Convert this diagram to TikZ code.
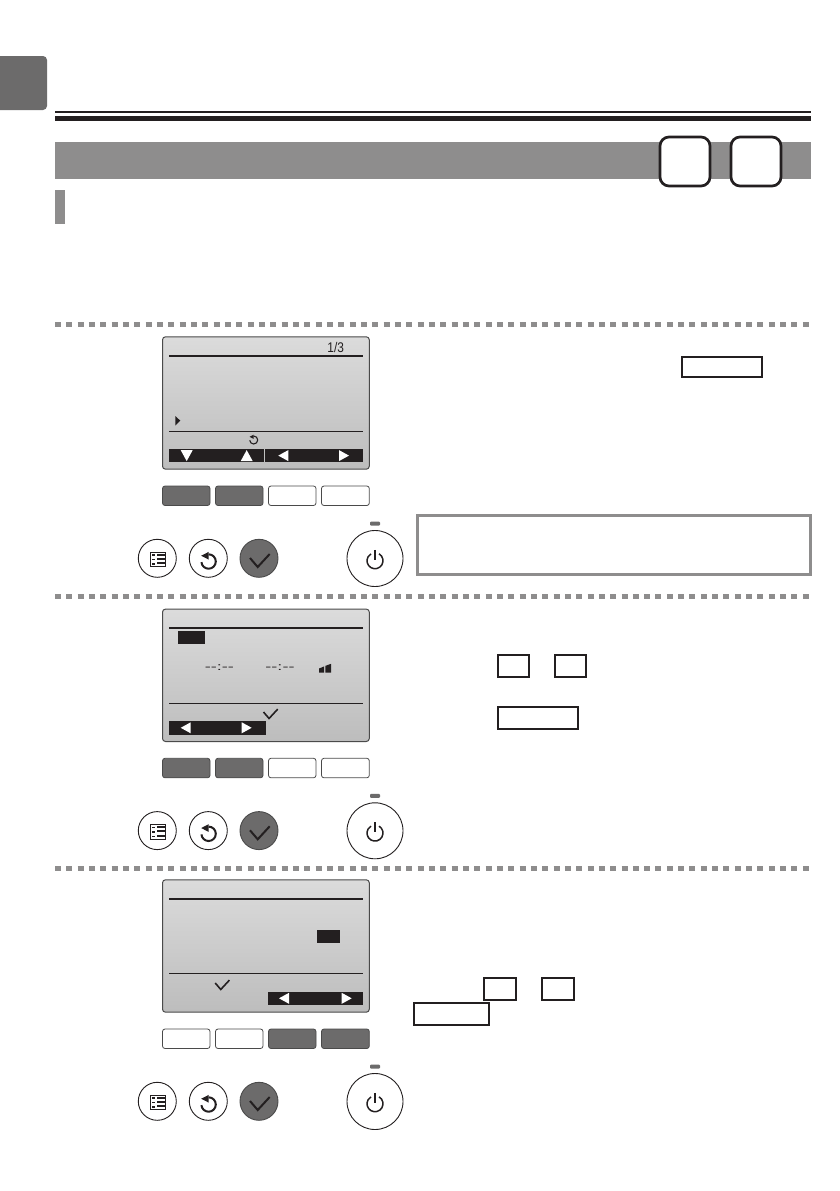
\documentclass[tikz,border=0pt]{standalone}
\usepackage{fontspec}
\setmainfont{Liberation Sans}
\definecolor{ink}{HTML}{231F20}
\definecolor{band}{HTML}{8E8D8D}
\definecolor{btn}{HTML}{6C6B6B}
\definecolor{rim}{HTML}{4A4A4A}
\tikzset{
  dotline/.style={band,line width=5.5pt,dash pattern=on 6pt off 5.33pt},
  keybox/.style={draw=ink,line width=1.7pt,fill=white},
  softkeyon/.style={fill=btn,draw=rim,line width=.8pt,rounded corners=2.5pt},
  softkeyoff/.style={fill=white,draw=rim,line width=.8pt,rounded corners=2.5pt},
  roundbtn/.style={draw=ink,line width=.9pt,fill=white},
  roundbtnon/.style={draw=rim,line width=.9pt,fill=btn},
  tri/.style={fill=white},
  lcdtext/.style={inner sep=0pt,text=ink}
}
% down/up/left/right triangles in the soft-key bar
\newcommand{\tridown}[2]{\fill[tri] (#1-6,#2-5.5) -- (#1+6,#2-5.5) -- (#1,#2+5.5) -- cycle;}
\newcommand{\triup}[2]{\fill[tri] (#1-6,#2+5.5) -- (#1+6,#2+5.5) -- (#1,#2-5.5) -- cycle;}
\newcommand{\trileft}[2]{\fill[tri] (#1+5,#2-5.5) -- (#1+5,#2+5.5) -- (#1-5,#2) -- cycle;}
\newcommand{\triright}[2]{\fill[tri] (#1-5,#2-5.5) -- (#1-5,#2+5.5) -- (#1+5,#2) -- cycle;}
% return glyph: centre x, y, radius, width
\newcommand{\retglyph}[4]{%
  \draw[draw=ink,line width=#4pt] (#1,#2-#3) arc[start angle=90,end angle=-175,radius=#3pt];
  \fill[ink] (#1-1.03*#3,#2-.8*#3) -- (#1,#2-1.33*#3) -- (#1,#2-.27*#3) -- cycle;}
% check glyph: centre x, y, scale, width
\newcommand{\chk}[4]{\draw[draw=ink,line width=#4pt] (#1-9*#3,#2) -- (#1-1.3*#3,#2+9*#3) -- (#1+10.7*#3,#2-4*#3);}
% the screen, soft keys and round buttons; #1 = vertical offset, #2..#5 = soft-key styles
\newcommand{\panel}[5]{%
\begin{scope}[shift={(0,#1)}]
  \shade[rounded corners=3pt,top color=white!86!black,bottom color=white!74!black]
    (162.5,336.8) rectangle (369.3,469.2);
  \draw[draw=rim,line width=1pt,rounded corners=3pt] (162.5,336.8) rectangle (369.3,469.2);
  \path[#2] (162.5,486) rectangle (210,505.5);
  \path[#3] (215.5,486) rectangle (263,505.5);
  \path[#4] (268.5,486) rectangle (316,505.5);
  \path[#5] (321.5,486) rectangle (369.3,505.5);
  \path[roundbtn] (157.3,558.3) circle[radius=19pt];
  \draw[draw=ink,line width=1.1pt,fill=white] (150.5,552.2) rectangle (165.3,566.8);
  \foreach \yy in {555,559,563.4} {\fill[ink] (156.5,\yy-1) rectangle (164.5,\yy+1);}
  \foreach \yy in {555,559.6,564} {\fill[ink] (151.8,\yy-.8) rectangle (154.8,\yy+.8);}
  \path[roundbtn] (208.3,558.3) circle[radius=19pt];
  \retglyph{208.6}{561.5}{7.2}{2}
  \path[roundbtnon] (259,558.3) circle[radius=19pt];
  \chk{259}{558}{1}{2}
  \path[roundbtn] (375,558.5) circle[radius=28pt];
  \fill[btn,rounded corners=1pt] (370,521.5) rectangle (380,525.5);
  \draw[draw=ink,line width=1.5pt] (379,553.8) arc[start angle=60,end angle=-240,radius=8pt];
  \draw[draw=ink,line width=1.7pt] (375,549.8) -- (375,560);
\end{scope}}
\begin{document}
\begin{tikzpicture}[x=1pt,y=-1pt]
\useasboundingbox (0,0) rectangle (839,1191);
\fill[white] (0,0) rectangle (839,1191);
% header
\fill[btn] (0,56) [rounded corners=4pt] -- (47,56) -- (47,110) [sharp corners] -- (0,110) -- cycle;
\fill[ink] (55,111) rectangle (811,113);
\fill[ink] (55,116) rectangle (811,121);
\fill[band] (55,142) rectangle (811,179);
\draw[draw=ink,line width=2.7pt,fill=white,rounded corners=9pt] (660,137) rectangle (710,186);
\draw[draw=ink,line width=2.7pt,fill=white,rounded corners=9pt] (731,137) rectangle (781,186);
\fill[band] (55,190) rectangle (65,224);
% separators
\draw[dotline] (55,324.7) -- (811,324.7);
\draw[dotline] (55,596.7) -- (811,596.7);
\draw[dotline] (55,868.7) -- (811,868.7);
% panels
\panel{0}{softkeyon}{softkeyon}{softkeyoff}{softkeyoff}
\panel{272.3}{softkeyon}{softkeyon}{softkeyoff}{softkeyoff}
\panel{543}{softkeyoff}{softkeyoff}{softkeyon}{softkeyon}
% screen 1
\fill[ink] (169,355) rectangle (363,356.7);
\fill[ink] (169,430.8) rectangle (363,431.9);
\node[lcdtext,font=\fontsize{14}{16}\selectfont,xscale=.85] (pageno) at (335.7,347.5) {1/3};
\fill[ink] (175.3,416) -- (175.3,425.5) -- (180.3,420.7) -- cycle;
\retglyph{253.7}{440}{4}{1.1}
\fill[ink] (169,449) rectangle (263.5,462.3);
\fill[ink] (265.3,449) rectangle (363,462.3);
\tridown{186.7}{455.6}
\triup{246.7}{455.6}
\trileft{283.3}{455.6}
\triright{344}{455.6}
% screen 2
\fill[ink] (169,627.2) rectangle (363,628.9);
\fill[ink] (169,702.8) rectangle (363,703.9);
\fill[ink] (178,631) rectangle (205,644);
\node[lcdtext,font=\fontsize{11}{12}\selectfont,xscale=1.64] (timeA) at (219.3,668) {{-}{-}:{-}{-}};
\node[lcdtext,font=\fontsize{11}{12}\selectfont,xscale=1.64] (timeB) at (280,668) {{-}{-}:{-}{-}};
\fill[ink] (319,668.5) -- (324.2,666.4) -- (324.2,672.6) -- (319,672.6) -- cycle;
\fill[ink] (325.4,665.8) -- (331.2,663.8) -- (331.2,672.6) -- (325.4,672.6) -- cycle;
\chk{270}{712}{.72}{1.6}
\fill[ink] (169,721) rectangle (266.3,734.5);
\trileft{185.7}{727.8}
\triright{246.7}{727.8}
% screen 3
\fill[ink] (169,898.2) rectangle (363,899.9);
\fill[ink] (169,972.8) rectangle (363,973.9);
\fill[ink] (317,930) rectangle (340,943);
\chk{221.7}{983}{.72}{1.6}
\fill[ink] (268,991.7) rectangle (363,1005);
\trileft{284}{998.3}
\triright{346.7}{998.3}
% key boxes in the text
\path[keybox] (681.7,357.3) rectangle (762.3,377.3);
\draw[draw=band,line width=2.6pt,fill=white] (417.3,515.3) rectangle (810.3,574.7);
\path[keybox] (497.7,654.7) rectangle (529,677.3);
\path[keybox] (555,654.7) rectangle (586,677.3);
\path[keybox] (497.7,706.7) rectangle (578,729.3);
\path[keybox] (483.7,977.7) rectangle (515.7,1000);
\path[keybox] (541.7,977.7) rectangle (573.7,1000);
\path[keybox] (413.7,1002.7) rectangle (489,1025);
\end{tikzpicture}
\end{document}
